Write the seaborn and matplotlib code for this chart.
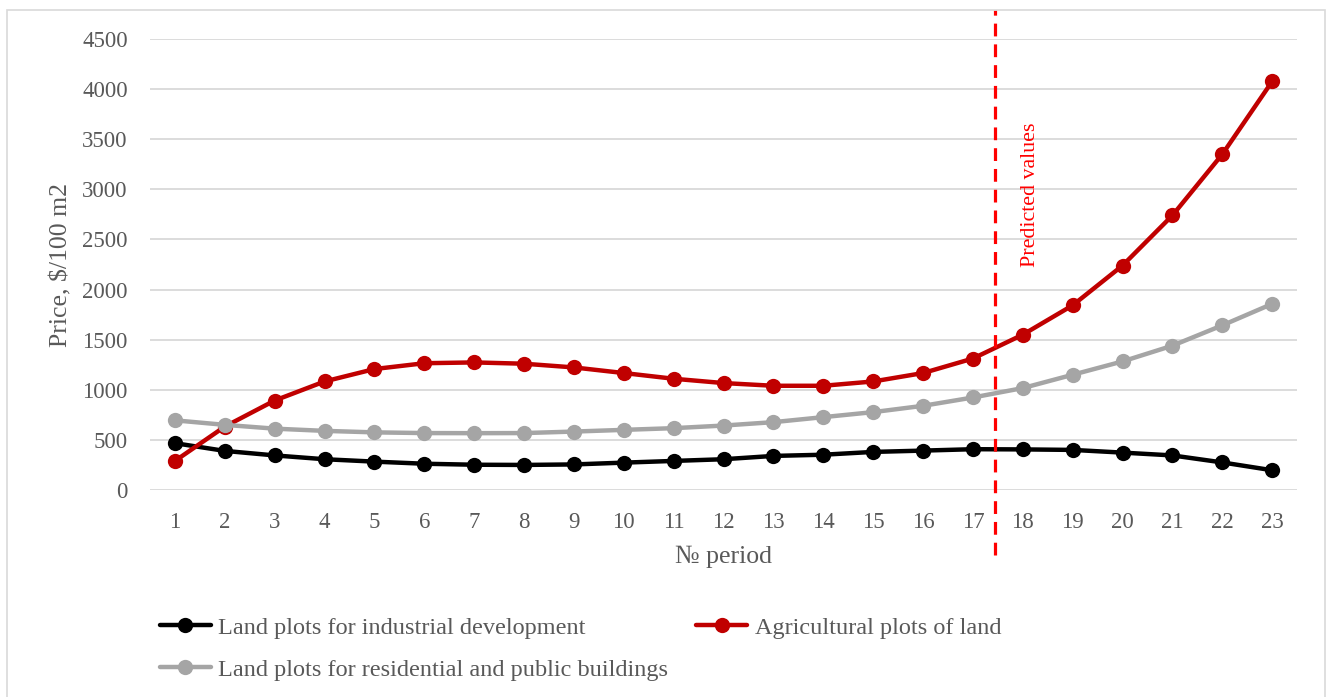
import matplotlib
matplotlib.use("Agg")
import matplotlib.pyplot as plt
import pandas as pd
import seaborn as sns
from matplotlib.patches import Rectangle

# -------------------------------------------------------------------
# Data
# -------------------------------------------------------------------
periods = list(range(1, 24))

industrial = [467, 390, 345, 307, 283, 262, 252, 250, 255, 273, 290, 307, 340,
              352, 380, 393, 407, 405, 400, 373, 345, 275, 197]
agricultural = [290, 633, 893, 1083, 1207, 1265, 1273, 1260, 1223, 1167, 1110,
                1067, 1040, 1040, 1083, 1167, 1312, 1550, 1843, 2240, 2740,
                3350, 4077]
residential = [695, 650, 612, 590, 575, 568, 567, 568, 583, 600, 617, 643, 677,
               727, 777, 840, 923, 1017, 1150, 1283, 1440, 1643, 1857]

series_names = [
    "Land plots for industrial development",
    "Agricultural plots of land",
    "Land plots for residential and public buildings",
]
series_colors = ["#000000", "#C00000", "#A5A5A5"]

y_ticks = list(range(0, 4501, 500))
forecast_start = 17.45

df = pd.DataFrame({
    "period": periods * 3,
    "price": industrial + agricultural + residential,
    "series": [series_names[0]] * 23 + [series_names[1]] * 23 + [series_names[2]] * 23,
})

# -------------------------------------------------------------------
# Plot
# -------------------------------------------------------------------
sns.set_theme(style="white")
plt.rcParams["font.family"] = ["Liberation Serif", "DejaVu Serif"]
text_color = "#595959"

fig = plt.figure(figsize=(13.29, 6.97), dpi=100)
ax = fig.add_axes([0.1129, 0.297, 0.976 - 0.1129, 0.944 - 0.297])

sns.lineplot(
    data=df, x="period", y="price", hue="series",
    palette=dict(zip(series_names, series_colors)),
    marker="o", markersize=11, markeredgewidth=0, linewidth=3.2,
    ax=ax, zorder=3,
)

ax.set_xlim(0.5, 23.5)
ax.set_ylim(0, 4500)
ax.set_xticks(periods)
ax.set_yticks(y_ticks)
ax.grid(axis="y", color="#d9d9d9", linewidth=1.3, zorder=0)
ax.grid(axis="x", visible=False)
for s in ax.spines.values():
    s.set_visible(False)
ax.tick_params(axis="both", length=0, labelsize=16.5, labelcolor=text_color)
ax.tick_params(axis="y", pad=16)
ax.tick_params(axis="x", pad=16)

ax.set_xlabel("№ period", fontsize=18.5, color=text_color, labelpad=9)
ax.set_ylabel("Price, $/100 m2", fontsize=18.5, color=text_color, labelpad=7)

ax.axvline(forecast_start, color="#FF0000", linestyle=(0, (4, 2.5)), linewidth=2.3,
           ymin=-0.144, ymax=1.064, clip_on=False, zorder=4)
ax.text(18.15, 2950, "Predicted values", rotation=90, color="#FF0000",
        fontsize=15.8, ha="center", va="center")

handles, labels = ax.get_legend_handles_labels()
ax.get_legend().remove()
lookup = dict(zip(labels, handles))
order = [series_names[0], series_names[2], series_names[1]]
fig.legend(
    [lookup[n] for n in order], order,
    loc="upper left", bbox_to_anchor=(0.113, 1 - 607 / 697), ncol=2,
    frameon=False, fontsize=17.5, labelcolor=text_color,
    handlelength=2.1, handletextpad=0.3, columnspacing=1.15,
    labelspacing=0.82, borderaxespad=0,
)

fig.patches.append(Rectangle((7 / 1329, -0.01), 1318 / 1329, 1.01 - 10 / 697,
                             transform=fig.transFigure, fill=False,
                             edgecolor="#d9d9d9", linewidth=1.2))

fig.savefig("out.png", dpi=100)
